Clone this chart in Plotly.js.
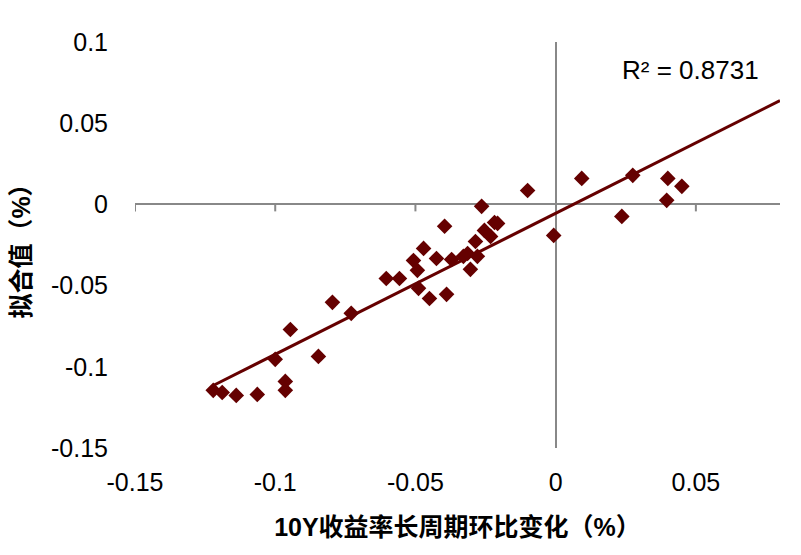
<!DOCTYPE html>
<html>
<head>
<meta charset="utf-8">
<script src="https://cdn.plot.ly/plotly-3.0.1.min.js"></script>
<style>html,body{margin:0;padding:0;background:#fff;}#chart{width:801px;height:555px;}</style>
</head>
<body>
<div id="chart"></div>
<script>
// 10Y收益率长周期环比变化（%）
const xChange = [-0.1221,-0.1189,-0.1139,-0.1064,-0.0964,-0.0964,-0.1000,-0.0946,-0.0846,-0.0796,
  -0.0729,-0.0604,-0.0557,-0.0507,-0.0493,-0.0489,-0.0450,-0.0471,-0.0425,-0.0396,
  -0.0389,-0.0371,-0.0329,-0.0314,-0.0304,-0.0286,-0.0279,-0.0264,-0.0254,-0.0232,
  -0.0218,-0.0207,-0.0100,-0.0007,0.0093,0.0275,0.0236,0.0396,0.0400,0.0450];
// 拟合值（%）
const yFitted = [-0.1145,-0.1158,-0.1176,-0.1170,-0.1090,-0.1145,-0.0954,-0.0770,-0.0936,-0.0603,
  -0.0671,-0.0456,-0.0456,-0.0345,-0.0406,-0.0517,-0.0579,-0.0271,-0.0333,-0.0135,
  -0.0554,-0.0339,-0.0320,-0.0302,-0.0400,-0.0228,-0.0320,-0.0012,-0.0160,-0.0197,
  -0.0111,-0.0117,0.0086,-0.0191,0.0160,0.0179,-0.0074,0.0025,0.0160,0.0111];
const xTicks = [-0.15,-0.1,-0.05,0,0.05];
const xTickText = ['-0.15','-0.1','-0.05','0','0.05'];
const yTicks = [-0.15,-0.1,-0.05,0,0.05,0.1];
const yTickText = ['-0.15','-0.1','-0.05','0','0.05','0.1'];
const xRange = [-0.15, 0.08];
const yRange = [-0.15, 0.1];
const r2Text = 'R² = 0.8731';

// linear trendline (least squares) from data, forecast forward to axis end
const n = xChange.length;
const mx = xChange.reduce((a,b)=>a+b,0)/n;
const my = yFitted.reduce((a,b)=>a+b,0)/n;
let sxy=0, sxx=0;
for (let i=0;i<n;i++){ sxy += (xChange[i]-mx)*(yFitted[i]-my); sxx += (xChange[i]-mx)**2; }
const slope = sxy/sxx, intercept = my - slope*mx;
const tx = [Math.min(...xChange), xRange[1]];
const ty = tx.map(v => intercept + slope*v);

const color = '#650000';
const font = 'Liberation Sans, Arial, Noto Sans CJK SC, sans-serif';

const traces = [
  {x: tx, y: ty, type: 'scatter', mode: 'lines', line: {color: color, width: 3}, hoverinfo: 'skip'},
  {x: xChange, y: yFitted, type: 'scatter', mode: 'markers',
   marker: {symbol: 'diamond', size: 12, color: color}}
];

const tickShapes = xTicks.filter(v => v !== 0).map(v => ({
  type: 'line', xref: 'x', yref: 'y', x0: v, x1: v, y0: 0, y1: -0.0043,
  line: {color: '#888888', width: 2}
}));

const layout = {
  width: 801, height: 555,
  margin: {l: 135, r: 21, t: 42, b: 107},
  paper_bgcolor: '#fff', plot_bgcolor: '#fff',
  showlegend: false,
  font: {family: font, size: 25, color: '#000'},
  xaxis: {
    range: xRange, tickvals: xTicks, ticktext: xTickText,
    showgrid: false, showline: false, zeroline: true, zerolinecolor: '#888888', zerolinewidth: 2,
    ticks: 'outside', ticklen: 12, tickcolor: 'rgba(0,0,0,0)',
    tickfont: {family: font, size: 25},
    title: {text: '<b>10Y收益率长周期环比变化（%）</b>', font: {family: font, size: 25}, standoff: 23}
  },
  yaxis: {
    range: yRange, tickvals: yTicks, ticktext: yTickText,
    showgrid: false, showline: false, zeroline: true, zerolinecolor: '#888888', zerolinewidth: 2,
    ticks: 'outside', ticklen: 21, tickcolor: 'rgba(0,0,0,0)',
    tickfont: {family: font, size: 25},
    title: {text: '<b>拟合值（%）</b>', font: {family: font, size: 25}, standoff: 13}
  },
  shapes: tickShapes,
  annotations: [{
    text: r2Text, xref: 'paper', yref: 'paper', x: 0.97, y: 0.93,
    xanchor: 'right', yanchor: 'middle', showarrow: false,
    font: {family: font, size: 26, color: '#000'}
  }]
};

Plotly.newPlot('chart', traces, layout, {displayModeBar: false, staticPlot: true});
</script>
</body>
</html>
